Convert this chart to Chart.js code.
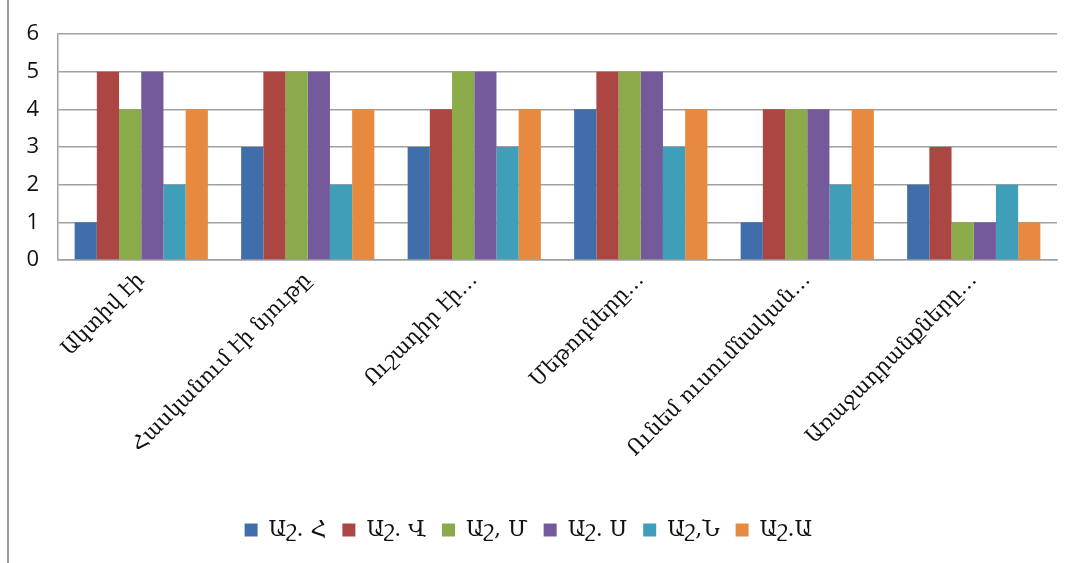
<!DOCTYPE html>
<html>
<head>
<meta charset="utf-8">
<script src="https://cdn.jsdelivr.net/npm/chart.js@4.4.0/dist/chart.umd.min.js"></script>
<style>
html,body{margin:0;padding:0;background:#fff;}
#wrap{position:relative;width:1072px;height:563px;}
#edge{position:absolute;left:7px;top:0;width:0;height:563px;border-left:2px solid #9a9a9a;}
canvas{position:absolute;left:0;top:0;}
</style>
</head>
<body>
<div id="wrap"><div id="edge"></div><canvas id="c" width="1072" height="563"></canvas></div>
<script>
const categories = ["Ակտիվ էի","Հասկանում էի նյութը","Ուշադիր էի…","Մեթոդները…","Ունեմ ուսումնական…","Առաջադրանքները…"];
const seriesNames = ["Աշ. Հ","Աշ. Վ","Աշ, Մ","Աշ. Ս","Աշ,Ն","Աշ.Ա"];
const seriesH = [1,3,3,4,1,2];
const seriesV = [5,5,4,5,4,3];
const seriesM = [4,5,5,5,4,1];
const seriesS = [5,5,5,5,4,1];
const seriesN = [2,2,3,3,2,2];
const seriesA = [4,4,4,4,4,1];
const yTicks = [0,1,2,3,4,5,6];
const colors = ["#3f6eaa","#ac4643","#8bab4a","#745a9b","#3f9fb8","#e78a3f"];

const allSeries = [seriesH,seriesV,seriesM,seriesS,seriesN,seriesA];
new Chart(document.getElementById('c'), {
  type: 'bar',
  data: {
    labels: categories,
    datasets: allSeries.map((d,i)=>({label: seriesNames[i], data: d, backgroundColor: colors[i], borderWidth:0}))
  },
  options: {
    responsive:false, animation:false,
    datasets:{bar:{categoryPercentage:0.8, barPercentage:1.0}},
    layout:{padding:{top:34,right:15,left:0,bottom:12}},
    plugins:{
      legend:{position:'bottom', labels:{boxWidth:13, boxHeight:13, padding:16, color:'#111', font:{family:"'DejaVu Serif', serif", size:22}}},
      tooltip:{enabled:false}
    },
    scales:{
      x:{
        grid:{display:false, drawTicks:false},
        border:{display:true, color:'#a0a0a0', width:1.5},
        ticks:{minRotation:45, maxRotation:45, padding:8, color:'#111', font:{family:"'DejaVu Serif', serif", size:21}},
        afterFit:(s)=>{s.height=243;}
      },
      y:{
        min:0, max:6,
        afterBuildTicks:(s)=>{s.ticks = yTicks.map(v=>({value:v}));},
        grid:{color:'#a0a0a0', lineWidth:1.5, drawTicks:false},
        border:{display:true, color:'#a0a0a0', width:1.5},
        ticks:{padding:19, color:'#111', font:{family:'Open Sans', size:22}},
        afterFit:(s)=>{s.width=58;}
      }
    }
  }
});
</script>
</body>
</html>
